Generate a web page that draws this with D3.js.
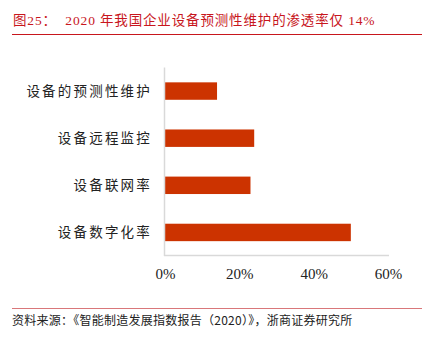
<!DOCTYPE html>
<html><head><meta charset="utf-8">
<script src="https://cdn.jsdelivr.net/npm/d3@7"></script>
<style>
html,body{margin:0;padding:0;background:#fff;}
svg{display:block;}
</style></head>
<body>
<svg id="c" width="430" height="345"></svg>
<script>
const titleText = "图25：  2020 年我国企业设备预测性维护的渗透率仅 14%";
const sourceText = "资料来源：《智能制造发展指数报告（2020）》，浙商证券研究所";
const categories = ["设备的预测性维护", "设备远程监控", "设备联网率", "设备数字化率"];
const values = [14, 24, 23, 50];
const xTicks = [0, 20, 40, 60];

const svg = d3.select("#c");
const serif = "'Liberation Serif','Noto Sans CJK SC',serif";
const cjk = "'Noto Sans CJK SC','Liberation Serif',serif";

// title
svg.append("text").attr("x", 13).attr("y", 25)
  .attr("fill", "#c8161d").attr("font-family", serif).attr("font-size", 13.5)
  .attr("letter-spacing", 0.85)
  .attr("xml:space", "preserve")
  .text(titleText);
svg.append("line").attr("x1", 12).attr("x2", 422).attr("y1", 34.5).attr("y2", 34.5)
  .attr("stroke", "#c8161d").attr("stroke-width", 1.2);

// bottom
svg.append("line").attr("x1", 12).attr("x2", 422).attr("y1", 308.5).attr("y2", 308.5)
  .attr("stroke", "#d9777a").attr("stroke-width", 1.2);
svg.append("text").attr("x", 12).attr("y", 325)
  .attr("fill", "#222").attr("font-family", cjk).attr("font-size", 12)
  .attr("letter-spacing", 0.25)
  .text(sourceText);

const x = d3.scaleLinear().domain([0, 60]).range([165, 388]);
const y = d3.scaleBand().domain(categories).range([67.5, 256]).paddingInner(0.63).paddingOuter(0.315);

// bars
svg.selectAll("rect.bar").data(categories).enter().append("rect")
  .attr("class", "bar")
  .attr("x", x(0))
  .attr("y", d => y(d))
  .attr("width", (d, i) => x(values[i]) - x(0))
  .attr("height", y.bandwidth())
  .attr("fill", "#cc3300");

// axes lines
svg.append("line").attr("x1", 164.5).attr("x2", 164.5).attr("y1", 67.5).attr("y2", 256)
  .attr("stroke", "#d9d9d9").attr("stroke-width", 1.5);
svg.append("line").attr("x1", 164).attr("x2", 389).attr("y1", 255.5).attr("y2", 255.5)
  .attr("stroke", "#d9d9d9").attr("stroke-width", 1.5);

// x tick labels
const xAxis = d3.axisBottom(x).tickValues(xTicks).tickFormat(d => d + "%").tickSize(0).tickPadding(0);
const gx = svg.append("g").attr("transform", "translate(0,268)").call(xAxis);
gx.select(".domain").remove();
gx.selectAll("text").attr("font-family", serif).attr("font-size", 15).attr("fill", "#222")
  .attr("dy", "0.71em");

// y labels
const yAxis = d3.axisLeft(y).tickSize(0).tickPadding(0);
const gy = svg.append("g").attr("transform", "translate(152,0)").call(yAxis);
gy.select(".domain").remove();
gy.selectAll("text").attr("font-family", cjk).attr("font-size", 13.5).attr("fill", "#222")
  .attr("letter-spacing", 2.2).attr("dy", "0.35em");
</script>
</body></html>
